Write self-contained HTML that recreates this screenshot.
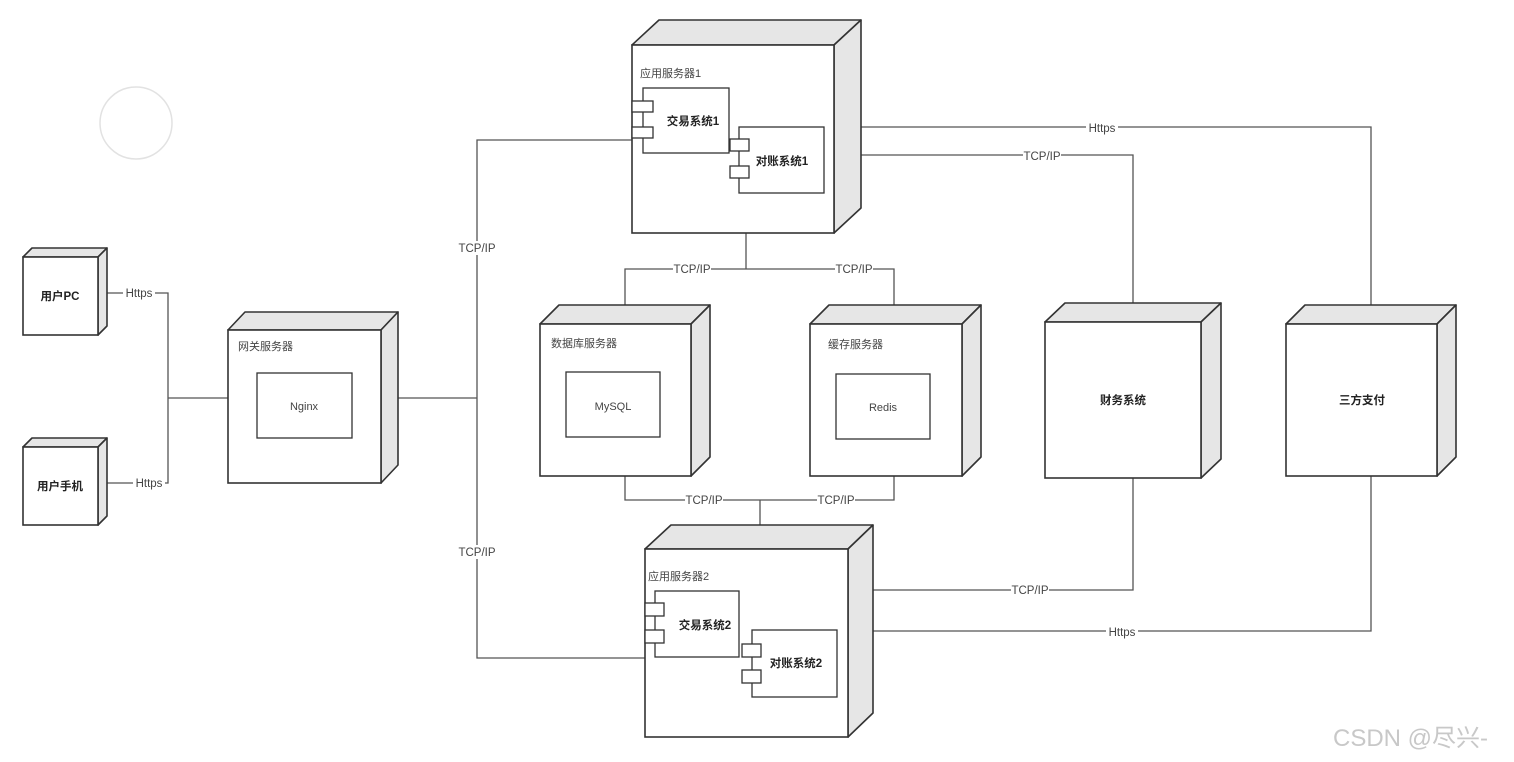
<!DOCTYPE html>
<html><head><meta charset="utf-8"><style>
html,body{margin:0;padding:0;background:#fff;}
svg{display:block;font-family:"Liberation Sans","Noto Sans CJK SC",sans-serif;}
.f{fill:#fff;stroke:#333;stroke-width:1.6}
.s{fill:#e6e6e6;stroke:#333;stroke-width:1.6;stroke-linejoin:round}
.l{fill:none;stroke:#555;stroke-width:1.3}
.t{font-size:11px;fill:#444}
.b{font-size:11.5px;fill:#222;font-weight:bold}
.lb{font-size:11.5px;fill:#444}
</style></head><body>
<svg width="1514" height="762" viewBox="0 0 1514 762" xmlns="http://www.w3.org/2000/svg">
<circle cx="136" cy="123" r="36" fill="none" stroke="#e2e2e2" stroke-width="1.5"/>

<g class="l">
<polyline points="98,293 168,293 168,483 98,483"/>
<line x1="168" y1="398" x2="228" y2="398"/>
<line x1="381" y1="398" x2="477" y2="398"/>
<polyline points="632,140 477,140 477,658 645,658"/>
<line x1="746" y1="233" x2="746" y2="269"/>
<polyline points="625,305 625,269 894,269 894,305"/>
<polyline points="625,476 625,500 894,500 894,476"/>
<line x1="760" y1="500" x2="760" y2="525"/>
<polyline points="834,127 1371,127 1371,305"/>
<polyline points="834,155 1133,155 1133,303"/>
<polyline points="848,590 1133,590 1133,478"/>
<polyline points="848,631 1371,631 1371,476"/>
</g>
<g class="lb" text-anchor="middle">
<rect x="123" y="286" width="32" height="14" fill="#fff"/><text x="139" y="297">Https</text>
<rect x="133" y="476" width="32" height="14" fill="#fff"/><text x="149" y="487">Https</text>
<rect x="458" y="241" width="38" height="14" fill="#fff"/><text x="477" y="252">TCP/IP</text>
<rect x="458" y="545" width="38" height="14" fill="#fff"/><text x="477" y="556">TCP/IP</text>
<rect x="673" y="262" width="38" height="14" fill="#fff"/><text x="692" y="273">TCP/IP</text>
<rect x="835" y="262" width="38" height="14" fill="#fff"/><text x="854" y="273">TCP/IP</text>
<rect x="685" y="493" width="38" height="14" fill="#fff"/><text x="704" y="504">TCP/IP</text>
<rect x="817" y="493" width="38" height="14" fill="#fff"/><text x="836" y="504">TCP/IP</text>
<rect x="1086" y="120" width="32" height="14" fill="#fff"/><text x="1102" y="132">Https</text>
<rect x="1023" y="148" width="38" height="14" fill="#fff"/><text x="1042" y="160">TCP/IP</text>
<rect x="1011" y="583" width="38" height="14" fill="#fff"/><text x="1030" y="594">TCP/IP</text>
<rect x="1106" y="624" width="32" height="14" fill="#fff"/><text x="1122" y="636">Https</text>
</g>

<polygon class="s" points="23,257 32,248 107,248 98,257"/>
<polygon class="s" points="98,257 107,248 107,326 98,335"/>
<rect class="f" x="23" y="257" width="75" height="78"/>
<text class="b" x="60" y="300" text-anchor="middle">用户PC</text>
<polygon class="s" points="23,447 32,438 107,438 98,447"/>
<polygon class="s" points="98,447 107,438 107,516 98,525"/>
<rect class="f" x="23" y="447" width="75" height="78"/>
<text class="b" x="60" y="490" text-anchor="middle">用户手机</text>

<polygon class="s" points="228,330 245,312 398,312 381,330"/>
<polygon class="s" points="381,330 398,312 398,465 381,483"/>
<rect class="f" x="228" y="330" width="153" height="153"/>
<text class="t" x="238" y="350">网关服务器</text>
<rect class="f" x="257" y="373" width="95" height="65" style="stroke-width:1.3"/>
<text class="t" x="304" y="410" text-anchor="middle">Nginx</text>

<polygon class="s" points="632,45 659,20 861,20 834,45"/>
<polygon class="s" points="834,45 861,20 861,208 834,233"/>
<rect class="f" x="632" y="45" width="202" height="188"/>
<text class="t" x="640" y="77">应用服务器1</text>
<rect class="f" x="643" y="88" width="86" height="65" style="stroke-width:1.3"/>
<rect class="f" x="632" y="101" width="21" height="11" style="stroke-width:1.3"/>
<rect class="f" x="632" y="127" width="21" height="11" style="stroke-width:1.3"/>
<text class="b" x="693" y="125" text-anchor="middle">交易系统1</text>
<rect class="f" x="739" y="127" width="85" height="66" style="stroke-width:1.3"/>
<rect class="f" x="730" y="139" width="19" height="12" style="stroke-width:1.3"/>
<rect class="f" x="730" y="166" width="19" height="12" style="stroke-width:1.3"/>
<text class="b" x="782" y="165" text-anchor="middle">对账系统1</text>

<polygon class="s" points="540,324 559,305 710,305 691,324"/>
<polygon class="s" points="691,324 710,305 710,457 691,476"/>
<rect class="f" x="540" y="324" width="151" height="152"/>
<text class="t" x="551" y="347">数据库服务器</text>
<rect class="f" x="566" y="372" width="94" height="65" style="stroke-width:1.3"/>
<text class="t" x="613" y="410" text-anchor="middle">MySQL</text>

<polygon class="s" points="810,324 829,305 981,305 962,324"/>
<polygon class="s" points="962,324 981,305 981,457 962,476"/>
<rect class="f" x="810" y="324" width="152" height="152"/>
<text class="t" x="828" y="348">缓存服务器</text>
<rect class="f" x="836" y="374" width="94" height="65" style="stroke-width:1.3"/>
<text class="t" x="883" y="411" text-anchor="middle">Redis</text>

<polygon class="s" points="1045,322 1065,303 1221,303 1201,322"/>
<polygon class="s" points="1201,322 1221,303 1221,459 1201,478"/>
<rect class="f" x="1045" y="322" width="156" height="156"/>
<text class="b" x="1123" y="404" text-anchor="middle">财务系统</text>

<polygon class="s" points="1286,324 1305,305 1456,305 1437,324"/>
<polygon class="s" points="1437,324 1456,305 1456,457 1437,476"/>
<rect class="f" x="1286" y="324" width="151" height="152"/>
<text class="b" x="1362" y="404" text-anchor="middle">三方支付</text>

<polygon class="s" points="645,549 671,525 873,525 848,549"/>
<polygon class="s" points="848,549 873,525 873,713 848,737"/>
<rect class="f" x="645" y="549" width="203" height="188"/>
<text class="t" x="648" y="580">应用服务器2</text>
<rect class="f" x="655" y="591" width="84" height="66" style="stroke-width:1.3"/>
<rect class="f" x="645" y="603" width="19" height="13" style="stroke-width:1.3"/>
<rect class="f" x="645" y="630" width="19" height="13" style="stroke-width:1.3"/>
<text class="b" x="705" y="629" text-anchor="middle">交易系统2</text>
<rect class="f" x="752" y="630" width="85" height="67" style="stroke-width:1.3"/>
<rect class="f" x="742" y="644" width="19" height="13" style="stroke-width:1.3"/>
<rect class="f" x="742" y="670" width="19" height="13" style="stroke-width:1.3"/>
<text class="b" x="796" y="667" text-anchor="middle">对账系统2</text>

<text x="1333" y="746" style="font-size:24px;fill:#c8c8c8">CSDN @尽兴-</text>
</svg>
</body></html>
